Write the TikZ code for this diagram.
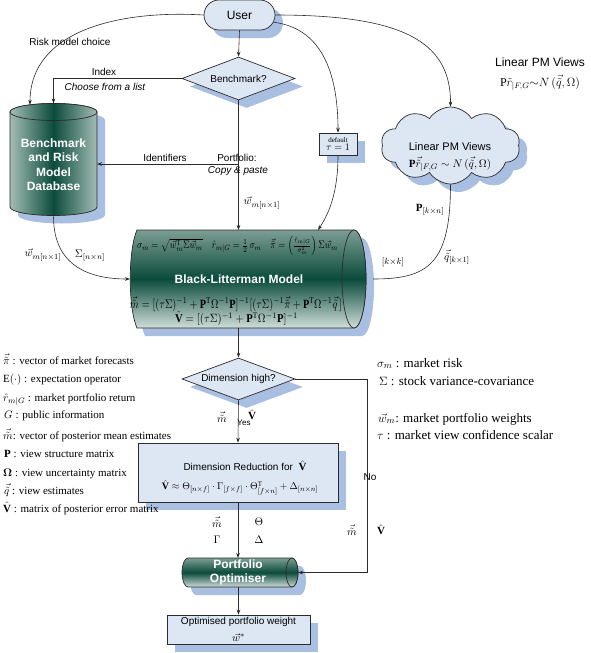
\documentclass[tikz,border=0pt]{standalone}
\usepackage{amsmath}
\usepackage{graphicx}
\usepackage{fontspec}
\setmainfont{Liberation Serif}
\setsansfont{Liberation Sans}
\usetikzlibrary{arrows.meta,shapes.geometric,shapes.misc,shapes.symbols,shadows,calc}
\definecolor{boxfill}{HTML}{DDE6F3}
\definecolor{shadec}{HTML}{A9BFE1}
\definecolor{dkgreen}{HTML}{0B4B3B}
\definecolor{topgreen}{HTML}{7C9E93}
\definecolor{botgreen}{HTML}{D0DED9}
\definecolor{edgegreen}{HTML}{A3BDB4}
\definecolor{linec}{HTML}{2B2B2B}
\newcommand\vtil[1]{\vec{\tilde{#1}}}
\begin{document}
\begin{tikzpicture}[x=1pt,y=-1pt,
  conn/.style={draw=linec,line width=0.6pt},
  arr/.style={conn,-{Stealth[length=5pt,width=3.6pt]}},
  shadowed/.style={drop shadow={shadow xshift=8pt,shadow yshift=-8pt,fill=shadec,opacity=1,draw=none}},
  boxstyle/.style={draw=linec,line width=0.7pt,fill=boxfill,shadowed},
  shapeline/.style={draw=linec,line width=0.7pt},
  vshade/.style={top color=topgreen,bottom color=botgreen,middle color=dkgreen},
  hshade/.style={left color=edgegreen,right color=edgegreen,middle color=dkgreen},
  sans/.style={font=\sffamily\fontsize{10}{12}\selectfont,inner sep=0pt},
  sansit/.style={font=\sffamily\itshape\fontsize{10}{12}\selectfont,inner sep=0pt},
  whitetitle/.style={text=white,font=\sffamily\bfseries\fontsize{12}{14.5}\selectfont,align=center,inner sep=0pt},
  legend/.style={anchor=base west,font=\fontsize{11}{13}\selectfont,inner sep=0pt},
  rlegend/.style={anchor=base west,font=\fontsize{13}{15}\selectfont,inner sep=0pt},
  mlbl/.style={font=\fontsize{11}{13}\selectfont,inner sep=0pt},
  area/.style={inner sep=0pt,outer sep=0pt},
]
\useasboundingbox (0,0) rectangle (590,653);

% ---------- shadows of the cylinders ----------
\fill[shadec,shift={(8,8)}] (10,112) -- (10,207) arc[start angle=180,end angle=0,x radius=43.5,y radius=8.5] -- (97,112) arc[start angle=0,end angle=-180,x radius=43.5,y radius=8.5] -- cycle;
\fill[shadec,shift={(8,8)}] (137,230) -- (354,230) arc[start angle=-90,end angle=90,x radius=12,y radius=49] -- (137,328) .. controls (128,308) and (128,250) .. (137,230) -- cycle;
\fill[shadec,shift={(8,8)}] (292,558) -- (188,558) arc[start angle=-90,end angle=-270,x radius=6,y radius=14.5] -- (292,587) arc[start angle=90,end angle=-90,x radius=6,y radius=14.5] -- cycle;

% ---------- database cylinder ----------
\path[shapeline,hshade] (10,112) -- (10,207) arc[start angle=180,end angle=0,x radius=43.5,y radius=8.5] -- (97,112) arc[start angle=0,end angle=-180,x radius=43.5,y radius=8.5] -- cycle;
\path[shapeline,hshade] (53.5,112) ellipse[x radius=43.5,y radius=8.5];
\node[area,minimum width=87pt,minimum height=113pt] (db) at (53.5,160) {};
\node[whitetitle] (dbt) at (53.5,164.5) {Benchmark\\and Risk\\Model\\Database};

% ---------- Black-Litterman cylinder ----------
\path[shapeline,vshade] (137,230) -- (354,230) arc[start angle=-90,end angle=90,x radius=12,y radius=49] -- (137,328) .. controls (128,308) and (128,250) .. (137,230) -- cycle;
\path[shapeline,vshade] (354,279) ellipse[x radius=12,y radius=49];
\node[area,minimum width=236pt,minimum height=98pt] (bl) at (248,279) {};
\node[whitetitle] (blt) at (239,279) {Black-Litterman Model};
\node[area] (bl1) at (237.5,246) {\resizebox{201pt}{12.5pt}{$\sigma_m=\sqrt{\vec w_m^{\mathrm T}\Sigma\vec w_m}\quad \hat r_{m|G}=\tfrac12\,\sigma_m\quad \vtil\pi=\left(\frac{\hat r_{m|G}}{\sigma_m^2}\right)\Sigma\vec w_m$}};
\node[area] (bl3) at (236,304) {\resizebox{212pt}{12pt}{$\vtil m=[(\tau\Sigma)^{-1}+\mathbf P^{\mathrm T}\Omega^{-1}\mathbf P]^{-1}[(\tau\Sigma)^{-1}\vtil\pi+\mathbf P^{\mathrm T}\Omega^{-1}\vtil q\,]$}};
\node[area] (bl4) at (236.5,318.5) {\resizebox{123pt}{11pt}{$\hat{\mathbf V}=[(\tau\Sigma)^{-1}+\mathbf P^{\mathrm T}\Omega^{-1}\mathbf P]^{-1}$}};

% ---------- Portfolio optimiser cylinder ----------
\path[shapeline,vshade] (292,558) -- (188,558) arc[start angle=-90,end angle=-270,x radius=6,y radius=14.5] -- (292,587) arc[start angle=90,end angle=-90,x radius=6,y radius=14.5] -- cycle;
\path[shapeline,vshade] (292,572.5) ellipse[x radius=6,y radius=14.5];
\node[area,minimum width=116pt,minimum height=29pt] (po) at (240,572.5) {};
\node[whitetitle,font=\sffamily\bfseries\fontsize{12}{14}\selectfont] (pot) at (238,572) {Portfolio\\Optimiser};

% ---------- other nodes ----------
\node[rounded rectangle,minimum width=71pt,minimum height=30pt,inner sep=0pt,boxstyle,font=\sffamily\fontsize{12}{14}\selectfont] (user) at (239.5,15) {User};
\node[diamond,aspect=2.6,minimum width=113pt,minimum height=43pt,boxstyle,sans] (bench) at (238.5,78.5) {Benchmark?};
\node[diamond,aspect=2.6,minimum width=113pt,minimum height=42pt,boxstyle,sans] (dim) at (238.5,379) {Dimension high?};
\node[rectangle,boxstyle,line width=0.6pt,minimum width=38pt,minimum height=22pt,inner sep=0pt,align=center,font=\fontsize{7}{9}\selectfont] (tau) at (338,144) {default\\[-1pt]{\fontsize{10}{10}\selectfont$\tau=1$}};
\node[cloud,cloud puffs=10,cloud puff arc=115,aspect=1.8,minimum width=139pt,minimum height=77pt,inner sep=0pt,boxstyle] (cloud) at (450.5,145.5) {};
\node[font=\sffamily\fontsize{11}{13}\selectfont,inner sep=0pt] (cl1) at (450,147) {Linear PM Views};
\node[mlbl] (cl2) at (450,164) {$\mathbf P\vtil r_{|F,G}\sim N\,(\vtil q,\Omega)$};
\node[boxstyle,minimum width=200pt,minimum height=59pt,inner sep=0pt] (dr) at (238,472.5) {};
\node[sans] (drt) at (245,466) {Dimension Reduction for\ \ {\fontsize{11}{13}\selectfont$\hat{\mathbf V}$}};
\node[mlbl] (drf) at (240,488) {\resizebox{156pt}{!}{$\hat{\mathbf V}\approx\Theta_{[n\times f]}\cdot\Gamma_{[f\times f]}\cdot\Theta^{\mathrm T}_{[f\times n]}+\Delta_{[n\times n]}$}};
\node[boxstyle,minimum width=143pt,minimum height=29pt,inner sep=0pt] (fin) at (238.5,629.5) {};
\node[sans] (fint) at (238.5,622) {Optimised portfolio weight};
\node[mlbl] (finw) at (238.5,638) {$\vec w^{*}$};

% ---------- top right ----------
\node[font=\sffamily\fontsize{12}{14}\selectfont,inner sep=0pt] (tr1) at (540,62) {Linear PM Views};
\node[font=\fontsize{12}{14}\selectfont,inner sep=0pt] (tr2) at (540,83) {$\mathrm P\tilde r_{|F,G}{\sim}N\,(\vtil q,\Omega)$};

% ---------- connectors ----------
\coordinate (dbl) at ($(db.north)+(-23.5,1.3)$);
\coordinate (jid) at (238.5,164);
\draw[arr] (user.south) -- (bench.north);
\draw[arr] (user.west) .. controls (120,10) and (30,30) .. (dbl);
\draw[arr] (bench.west) -| (db.north);
\draw[arr] (jid) -- (jid -| db.east);
\draw[arr] (bench.south) -- (bench.south |- bl.north);
\draw[arr] (db.south) .. controls +(0,50) and +(-40,0) .. (bl.west);
\draw[arr] (user.-12) .. controls (320,28) and (338,70) .. (tau.north);
\draw[arr] (user.east) .. controls (400,15) and (451,40) .. (cloud.north);
\draw[arr] (tau.south) .. controls +(0,35) and +(12,-18) .. ([xshift=70pt]bl.north);
\draw[conn] (cloud.south) .. controls +(0,80) and +(55,0) .. ([xshift=7pt]bl.east);
\draw[arr] (dim.north |- bl.south) -- (dim.north);
\draw[arr] (dim.south) -- (dr.north);
\draw[arr] (dim.east) -- ++(72,0) |- (po.east);
\draw[arr] (dr.south) -- (dr.south |- po.north);
\draw[arr] (fin.north |- po.south) -- (fin.north);

% ---------- connector labels ----------
\node[sans] (l1) at (70,42) {Risk model choice};
\node[sans] (l2) at (104,72) {Index};
\node[sansit] (l3) at (105,87) {Choose from a list};
\node[sans] (l4) at (165,158) {Identifiers};
\node[sans] (l5) at (237,158) {Portfolio:};
\node[sansit] (l6) at (238,171) {Copy \& paste};
\node[mlbl] (l7) at (262,203) {$\vec w_{m[n\times 1]}$};
\node[mlbl] (l8) at (43,255) {$\vec w_{m[n\times 1]}$};
\node[mlbl] (l9) at (90,256) {$\Sigma_{[n\times n]}$};
\node[mlbl] (l10) at (430,210) {$\mathbf P_{[k\times n]}$};
\node[mlbl] (l11) at (457,257) {$\vtil q_{[k\times 1]}$};
\node[mlbl,font=\fontsize{9}{11}\selectfont] (l12) at (393,262) {$[k{\times}k]$};
\node[mlbl] (l13) at (222,417) {$\vtil m$};
\node[sans,font=\sffamily\fontsize{8}{9}\selectfont] (l14) at (244,423) {Yes};
\node[mlbl] (l15) at (252,415) {$\hat{\mathbf V}$};
\node[mlbl] (l16) at (217,522) {$\vtil m$};
\node[mlbl] (l17) at (217,540) {$\Gamma$};
\node[mlbl] (l18) at (259,522) {$\Theta$};
\node[mlbl] (l19) at (259,540) {$\Delta$};
\node[sans] (l20) at (370,477) {No};
\node[mlbl] (l21) at (352,530) {$\vtil m$};
\node[mlbl] (l22) at (381,530) {$\hat{\mathbf V}$};

% ---------- legends ----------
\node[legend] (g1) at (3,364) {$\vtil\pi$ : vector of\ market forecasts};
\node[legend] (g2) at (3,382) {E$(\cdot)$ : expectation operator};
\node[legend] (g3) at (3,401) {$\hat r_{m|G}$ : market portfolio return};
\node[legend] (g4) at (4,418) {$G$ : public information};
\node[legend] (g5) at (3,439) {$\vtil m$: vector of\ posterior mean estimates};
\node[legend] (g6) at (4,457) {$\mathbf P$ : view structure matrix};
\node[legend] (g7) at (3,476) {$\boldsymbol\Omega$ : view uncertainty matrix};
\node[legend] (g8) at (4,494) {$\vtil q$ : view estimates};
\node[legend] (g9) at (3,512) {$\hat{\mathbf V}$ : matrix of\ posterior error matrix};
\node[rlegend] (h1) at (377,367) {$\sigma_m$ : market risk};
\node[rlegend] (h2) at (379,385) {$\Sigma$ : stock variance-covariance};
\node[rlegend] (h3) at (378,422) {$\vec w_m$: market portfolio weights};
\node[rlegend] (h4) at (377,439) {$\tau$ : market view confidence scalar};
\end{tikzpicture}
\end{document}
